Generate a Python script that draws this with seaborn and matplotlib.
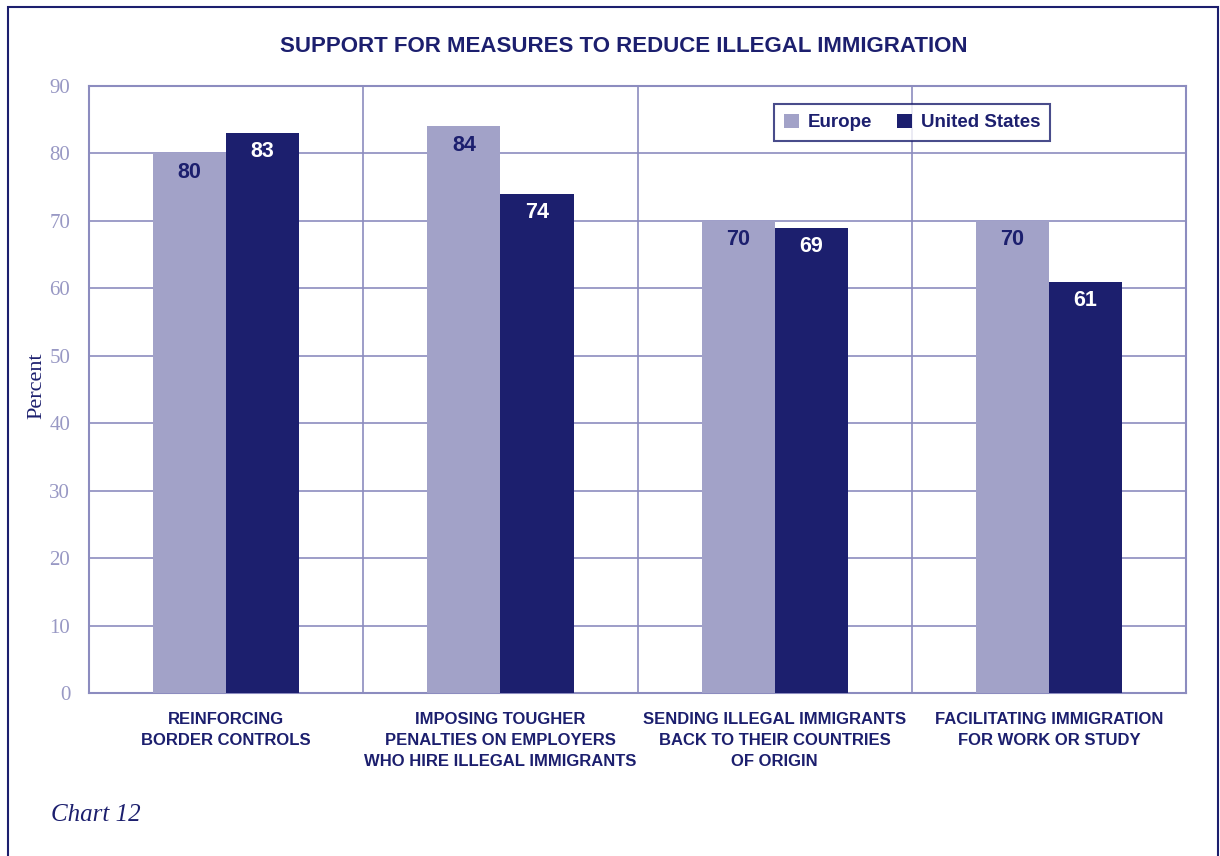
import numpy as np
import pandas as pd
import matplotlib.pyplot as plt
import seaborn as sns
from matplotlib.patches import Rectangle, Patch

categories = [
    "REINFORCING\nBORDER CONTROLS",
    "IMPOSING TOUGHER\nPENALTIES ON EMPLOYERS\nWHO HIRE ILLEGAL IMMIGRANTS",
    "SENDING ILLEGAL IMMIGRANTS\nBACK TO THEIR COUNTRIES\nOF ORIGIN",
    "FACILITATING IMMIGRATION\nFOR WORK OR STUDY",
]
europe = [80, 84, 70, 70]
united_states = [83, 74, 69, 61]
series = ["Europe", "United States"]
yticks = [0, 10, 20, 30, 40, 50, 60, 70, 80, 90]

NAVY = "#1c1f6e"
LAV = "#a2a2c8"
GRID = "#8c8cbf"
TICK_TXT = "#9898c4"
SANS = ["Liberation Sans", "DejaVu Sans"]
SERIF = ["Liberation Serif", "DejaVu Serif"]

df = pd.DataFrame({
    "Measure": categories * 2,
    "Region": [series[0]] * 4 + [series[1]] * 4,
    "Percent": europe + united_states,
})

sns.set_theme(style="white")
fig = plt.figure(figsize=(12.2, 8.56), dpi=100)
ax = fig.add_axes([0.0730, 0.1904, 0.8992, 0.7091])

sns.barplot(data=df, x="Measure", y="Percent", hue="Region",
            palette=[LAV, NAVY], width=0.533, gap=0, saturation=1,
            edgecolor="none", linewidth=0, ax=ax, legend=False, zorder=3)

ax.set_xlim(-0.5, 3.5)
ax.set_ylim(0, 90)
ax.set_yticks(yticks)
ax.set_yticklabels([str(v) for v in yticks], fontsize=15, color=TICK_TXT,
                   family=SERIF)
ax.set_xticks(range(4))
ax.set_xticklabels(categories, fontsize=12, color=NAVY, family=SANS,
                   fontweight="bold", linespacing=1.5)
ax.tick_params(axis="x", length=0, pad=14)
ax.tick_params(axis="y", length=11.5, width=1.5, color=GRID, pad=2)
ax.set_xticks([0.5, 1.5, 2.5], minor=True)
ax.tick_params(axis="x", which="minor", length=0)
ax.grid(True, axis="y", which="major", color=GRID, linewidth=1.2, zorder=0)
ax.grid(True, axis="x", which="minor", color=GRID, linewidth=1.2, zorder=0)
ax.set_axisbelow(True)
for s in ax.spines.values():
    s.set_color(GRID)
    s.set_linewidth(1.5)

ax.set_xlabel("")
ax.set_ylabel("Percent", fontsize=16, color=NAVY, family=SERIF)
ax.yaxis.set_label_coords(-0.039, 0.507)

for cont, col in zip(ax.containers, [NAVY, "white"]):
    ax.bar_label(cont, padding=-21, color=col, fontsize=15.5,
                 family=SANS, fontweight="bold")

handles = [Patch(facecolor=LAV, edgecolor="none"),
           Patch(facecolor=NAVY, edgecolor="none")]
leg = ax.legend(handles, series, loc="upper right", bbox_to_anchor=(0.876, 0.970),
                borderaxespad=0, ncol=2, frameon=True, fancybox=False,
                handlelength=0.8, handleheight=0.8, handletextpad=0.5,
                columnspacing=1.3, borderpad=0.5,
                prop={"family": SANS, "weight": "bold", "size": 13.5})
leg.get_frame().set_edgecolor(NAVY)
leg.get_frame().set_linewidth(1.5)
for t in leg.get_texts():
    t.set_color(NAVY)

fig.text(0.511, 0.946, "SUPPORT FOR MEASURES TO REDUCE ILLEGAL IMMIGRATION",
         ha="center", va="center", fontsize=16, fontweight="bold",
         color=NAVY, family=SANS)
fig.text(0.042, 0.048, "Chart 12", ha="left", va="center", fontsize=18,
         style="italic", color=NAVY, family=SERIF)

fig.patches.append(Rectangle((8 / 1220, -0.05), 1210 / 1220, 1.05 - 7 / 856,
                             transform=fig.transFigure, fill=False,
                             edgecolor=NAVY, linewidth=1.5))

fig.savefig("out.png", dpi=100, facecolor="white")
